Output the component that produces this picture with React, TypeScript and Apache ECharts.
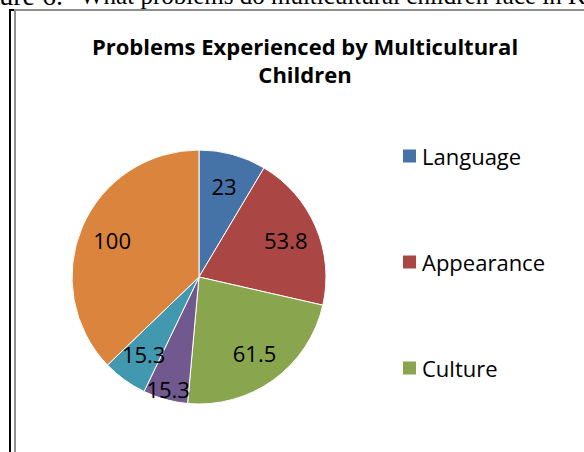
import React, { useEffect, useRef } from 'react';
import * as echarts from 'echarts';

// ---- data ----
const categories = ['Language', 'Appearance', 'Culture', 'Religion', 'Food', 'Other'];
const values = [23, 53.8, 61.5, 15.3, 15.3, 100];
const legendItems = ['Language', 'Appearance', 'Culture'];
const colors = ['#4572A7', '#AA4643', '#89A54E', '#71588F', '#4198AF', '#DB843D'];
const titleText = 'Problems Experienced by Multicultural\nChildren';
const captionLead = 'Figure 6.';
const captionText = 'What problems do multicultural children face in Korea?';
// slices whose label Excel pushed further outward
const liftedLabels = ['Religion'];

export default function App() {
  const ref = useRef<HTMLDivElement>(null);

  useEffect(() => {
    const el = ref.current;
    if (!el) return;
    const chart = echarts.init(el, null, { renderer: 'svg' });
    const R = 127;
    const center = [199, 277];
    const font = '"Open Sans", "Noto Sans", sans-serif';
    const serif = '"Liberation Serif", "DejaVu Serif", serif';

    const labelSeries = (ratio: number, show: (name: string) => boolean) => ({
      type: 'pie',
      silent: true,
      center,
      radius: [0, 2 * ratio * R],
      startAngle: 90,
      clockwise: true,
      z: 5,
      itemStyle: { color: 'rgba(0,0,0,0)', borderWidth: 0 },
      label: {
        show: true,
        position: 'inside',
        color: '#000',
        fontFamily: font,
        fontSize: 22,
        formatter: '{c}',
      },
      labelLine: { show: false },
      emphasis: { disabled: true },
      data: categories.map((name, i) => ({
        name,
        value: values[i],
        label: { show: show(name) },
      })),
    });

    chart.setOption({
      animation: false,
      color: colors,
      title: {
        text: titleText,
        left: 305,
        top: 32,
        textAlign: 'center',
        padding: 0,
        textStyle: {
          fontFamily: font,
          fontWeight: 'bold',
          fontSize: 22,
          lineHeight: 28,
          color: '#000',
        },
      },
      legend: {
        data: legendItems,
        orient: 'vertical',
        left: 401,
        top: 144,
        padding: 0,
        itemWidth: 15,
        itemHeight: 15,
        itemGap: 82,
        icon: 'rect',
        selectedMode: false,
        textStyle: { fontFamily: font, fontSize: 22, color: '#000', lineHeight: 24 },
      },
      graphic: [
        { type: 'rect', shape: { x: 9, y: 9, width: 2, height: 443 }, style: { fill: '#000' }, silent: true },
        { type: 'rect', shape: { x: 9, y: 9, width: 5, height: 2 }, style: { fill: '#000' }, silent: true },
        { type: 'rect', shape: { x: 14, y: 9, width: 570, height: 2 }, style: { fill: '#8f8f8f' }, silent: true },
        { type: 'rect', shape: { x: 14, y: 9, width: 2, height: 443 }, style: { fill: '#8f8f8f' }, silent: true },
        {
          type: 'text',
          x: 63,
          y: -4.5,
          silent: true,
          style: { text: captionLead, font: `28px ${serif}`, fill: '#000', align: 'right', verticalAlign: 'middle' },
        },
        {
          type: 'text',
          x: 80,
          y: -4.5,
          silent: true,
          style: { text: captionText, font: `25px ${serif}`, fill: '#000', align: 'left', verticalAlign: 'middle' },
        },
      ],
      series: [
        {
          type: 'pie',
          center,
          radius: [0, R],
          startAngle: 90,
          clockwise: true,
          silent: true,
          itemStyle: { borderColor: '#fff', borderWidth: 1 },
          label: { show: false },
          labelLine: { show: false },
          emphasis: { disabled: true },
          data: categories.map((name, i) => ({ name, value: values[i] })),
        },
        labelSeries(0.72, (n) => !liftedLabels.includes(n)),
        labelSeries(0.89, (n) => liftedLabels.includes(n)),
      ],
    });

    return () => chart.dispose();
  }, []);

  return (
    <div
      ref={ref}
      style={{ position: 'absolute', left: 0, top: 0, width: 584, height: 452, background: '#fff' }}
    />
  );
}
